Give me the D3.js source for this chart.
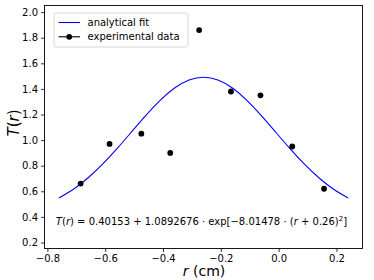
<!DOCTYPE html>
<html>
<meta charset="utf-8">
<script src="https://d3js.org/d3.v7.min.js"></script>
<style>
  body { margin: 0; background: #fff; }
  text { font-family: "DejaVu Sans", sans-serif; fill: #000; }
</style>
<body>
<div id="chart"></div>
<script>
// experimental points
var expR = [-0.685, -0.585, -0.475, -0.375, -0.275, -0.165, -0.063, 0.047, 0.157];
var expT = [0.66, 0.97, 1.05, 0.90, 1.86, 1.38, 1.35, 0.95, 0.62];

// analytical fit, tabulated
var fitR = [-0.76, -0.71, -0.66, -0.61, -0.56, -0.51, -0.46, -0.41, -0.36, -0.31, -0.26,
            -0.21, -0.16, -0.11, -0.06, -0.01, 0.04, 0.09, 0.14, 0.19, 0.24];
var fitT = [0.5484, 0.6164, 0.7037, 0.8096, 0.9311, 1.0616, 1.1921, 1.3111, 1.4069, 1.4692, 1.4908,
            1.4692, 1.4069, 1.3111, 1.1921, 1.0616, 0.9311, 0.8096, 0.7037, 0.6164, 0.5484];

var xTicks = [-0.8, -0.6, -0.4, -0.2, 0.0, 0.2];
var yTicks = [0.2, 0.4, 0.6, 0.8, 1.0, 1.2, 1.4, 1.6, 1.8, 2.0];

var margin = {top: 5.5, right: 11.5, bottom: 31.5, left: 44.5},
    W = 374, H = 280,
    width = W - margin.left - margin.right,
    height = H - margin.top - margin.bottom;

var x = d3.scaleLinear().domain([-0.81, 0.29]).range([0, width]);
var y = d3.scaleLinear().domain([0.153, 2.052]).range([height, 0]);

var svg = d3.select("#chart").append("svg")
    .attr("width", W)
    .attr("height", H)
  .append("g")
    .attr("transform", "translate(" + margin.left + "," + margin.top + ")");

// axes
var fmt = function(d) { return d3.format(".1f")(d).replace("-", "\u2212"); };
var xAxis = svg.append("g")
    .attr("transform", "translate(0," + height + ")")
    .call(d3.axisBottom(x).tickValues(xTicks).tickFormat(fmt).tickSize(3.5).tickPadding(3));
var yAxis = svg.append("g")
    .call(d3.axisLeft(y).tickValues(yTicks).tickFormat(fmt).tickSize(3.5).tickPadding(3));
[xAxis, yAxis].forEach(function(a) {
  a.select(".domain").remove();
  a.selectAll("line").attr("stroke", "#000").attr("stroke-width", 0.8);
  a.selectAll("text").style("font-size", "10px").attr("fill", "#000");
});

// frame
svg.append("rect")
    .attr("width", width).attr("height", height)
    .attr("fill", "none").attr("stroke", "#000").attr("stroke-width", 0.9);

// fit line
var line = d3.line()
    .x(function(d, i) { return x(fitR[i]); })
    .y(function(d) { return y(d); })
    .curve(d3.curveNatural);
svg.append("path")
    .datum(fitT)
    .attr("d", line)
    .attr("fill", "none")
    .attr("stroke", "#0000ff")
    .attr("stroke-width", 1.1);

// points
svg.selectAll(".pt")
    .data(expT)
  .enter().append("circle")
    .attr("cx", function(d, i) { return x(expR[i]); })
    .attr("cy", function(d) { return y(d); })
    .attr("r", 2.9)
    .attr("fill", "#000");

// formula
var f = svg.append("text")
    .attr("x", x(-0.267))
    .attr("y", y(0.336))
    .attr("text-anchor", "middle")
    .style("font-size", "10px");
f.append("tspan").style("font-style", "italic").text("T");
f.append("tspan").text("(");
f.append("tspan").style("font-style", "italic").text("r");
f.append("tspan").text(") = 0.40153 + 1.0892676 \u00b7 exp[\u22128.01478 \u00b7 (");
f.append("tspan").style("font-style", "italic").text("r");
f.append("tspan").text(" + 0.26)");
f.append("tspan").attr("dy", -4).style("font-size", "7px").text("2");
f.append("tspan").attr("dy", 4).text("]");

// legend
var lg = svg.append("g").attr("transform", "translate(" + (54 - margin.left) + "," + (13 - margin.top) + ")");
lg.append("rect")
    .attr("width", 134).attr("height", 34).attr("rx", 2)
    .attr("fill", "#fff").attr("fill-opacity", 0.8)
    .attr("stroke", "#ccc").attr("stroke-width", 0.8);
lg.append("line").attr("x1", 4.5).attr("x2", 26).attr("y1", 9.5).attr("y2", 9.5)
    .attr("stroke", "#0000ff").attr("stroke-width", 1.1);
lg.append("line").attr("x1", 4.5).attr("x2", 26).attr("y1", 23.8).attr("y2", 23.8)
    .attr("stroke", "#000").attr("stroke-width", 1.1);
lg.append("circle").attr("cx", 15.2).attr("cy", 23.8).attr("r", 2.9).attr("fill", "#000");
lg.append("text").attr("x", 33.5).attr("y", 13).style("font-size", "10px").text("analytical fit");
lg.append("text").attr("x", 33.5).attr("y", 27.3).style("font-size", "10px").text("experimental data");

// axis labels
var xl = svg.append("text")
    .attr("x", width / 2 + 0.5)
    .attr("y", height + 27.5)
    .attr("text-anchor", "middle")
    .style("font-size", "14px");
xl.append("tspan").style("font-style", "italic").text("r");
xl.append("tspan").text(" (cm)");

var yl = svg.append("text")
    .attr("transform", "translate(" + (-25.5) + "," + (123 - margin.top) + ") rotate(-90)")
    .attr("text-anchor", "middle")
    .style("font-size", "15px");
yl.append("tspan").style("font-style", "italic").text("T");
yl.append("tspan").text("(");
yl.append("tspan").style("font-style", "italic").text("r");
yl.append("tspan").text(")");
</script>
</body>
</html>
